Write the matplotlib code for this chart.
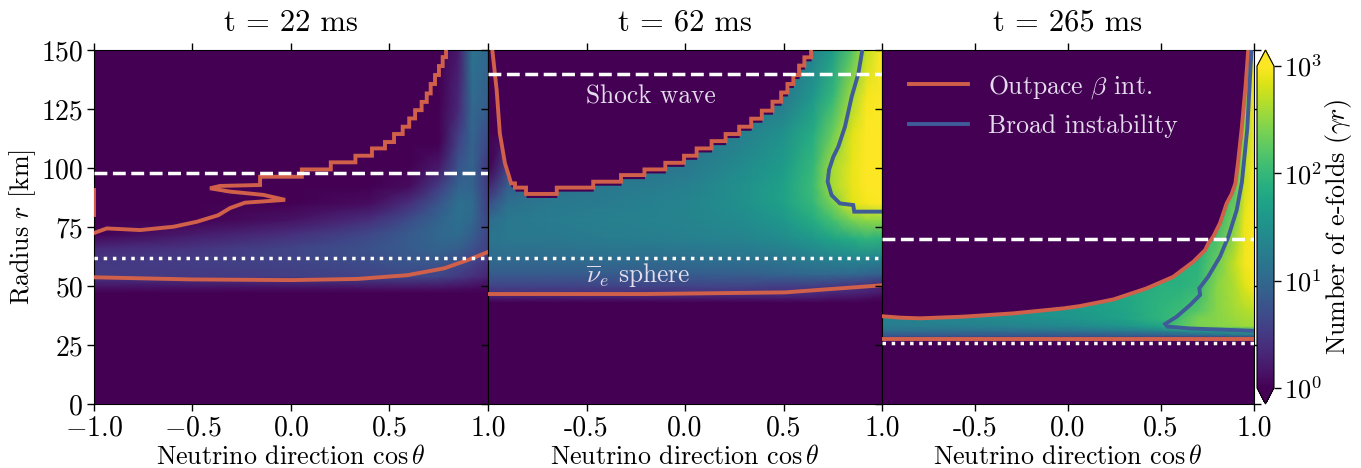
import matplotlib
matplotlib.use("Agg")
import matplotlib.pyplot as plt
from matplotlib.colors import LogNorm
import numpy as np

plt.rcParams['font.family'] = ['cmr10']
plt.rcParams['mathtext.fontset'] = 'cm'
plt.rcParams['axes.unicode_minus'] = False

# ---------- Data ----------
titles = ["t = 22 ms", "t = 62 ms", "t = 265 ms"]
shockRadius = [98, 140, 70]
sphereRadius = [62, 62, 26]

# heat maps hold log10 of the number of e-folds
cos1 = [-1, -0.5, 0, 0.4, 0.6, 0.75, 0.85, 0.92, 1]
rad1 = [0, 47, 49, 54, 60, 66, 72, 78, 85, 92, 100, 110, 125, 150]
log1 = [
    [0, 0, 0, 0, 0, 0, 0, 0, 0],
    [0, 0, 0, 0, 0, 0, 0, 0, 0],
    [.1, .1, .1, .12, .12, .12, .1, .08, .05],
    [.5, .5, .55, .6, .65, .6, .5, .4, .3],
    [.5, .55, .6, .7, .8, .8, .7, .6, .45],
    [.35, .45, .6, .75, .85, .95, .9, .75, .55],
    [.02, .2, .4, .65, .85, 1.0, 1.05, .9, .6],
    [0, 0, .15, .4, .7, .95, 1.1, 1.0, .6],
    [0, 0, 0, .1, .4, .8, 1.1, 1.05, .55],
    [0, 0, 0, 0, .1, .55, .95, .95, .5],
    [0, 0, 0, 0, 0, .2, .8, .95, .45],
    [0, 0, 0, 0, 0, 0, .6, .95, .6],
    [0, 0, 0, 0, 0, 0, .35, 1.0, .85],
    [0, 0, 0, 0, 0, 0, .2, 1.15, 1.0],
]

cos2 = [-1, -0.9, -0.7, -0.4, 0, 0.3, 0.5, 0.65, 0.75, 0.85, 0.92, 1]
rad2 = [0, 43, 45, 47, 50, 55, 62, 70, 78, 85, 92, 100, 115, 130, 150]
log2 = [
    [0, 0, 0, 0, 0, 0, 0, 0, 0, 0, 0, 0],
    [0, 0, 0, 0, 0, 0, 0, 0, 0, 0, 0, 0],
    [.2, .2, .2, .2, .2, .2, .2, .2, .15, .15, .1, .05],
    [.4, .4, .4, .4, .4, .4, .4, .35, .3, .3, .25, .2],
    [.6, .6, .6, .6, .6, .6, .55, .55, .5, .45, .4, .3],
    [.85, .85, .85, .85, .87, .9, .95, 1, 1, 1, .95, .9],
    [1.05, 1.05, 1.05, 1.08, 1.1, 1.15, 1.2, 1.3, 1.35, 1.4, 1.4, 1.35],
    [1.15, 1.2, 1.2, 1.25, 1.3, 1.35, 1.45, 1.6, 1.75, 1.85, 1.95, 1.9],
    [1.05, 1.2, 1.25, 1.3, 1.35, 1.45, 1.6, 1.85, 2.1, 2.4, 2.5, 2.5],
    [.7, 1.1, 1.2, 1.25, 1.35, 1.5, 1.7, 2.0, 2.4, 2.85, 2.95, 3],
    [.3, .9, 1.1, 1.2, 1.3, 1.5, 1.7, 2.05, 2.6, 2.9, 3, 3],
    [0, .6, 1.0, 1.1, 1.2, 1.45, 1.65, 2.0, 2.6, 2.9, 3, 3],
    [0, 0, .9, 1.0, 1.1, 1.3, 1.5, 1.85, 2.3, 2.85, 3, 3],
    [0, 0, .7, .8, .9, 1.1, 1.2, 1.6, 2.0, 2.6, 2.95, 3],
    [0, 0, .5, .6, .8, 1.0, 1.1, 1.3, 1.65, 2.2, 2.7, 3],
]

cos3 = [-1, -0.5, 0, 0.3, 0.5, 0.6, 0.7, 0.8, 0.9, 0.95, 1]
rad3 = [0, 26.5, 27.5, 29, 31, 33, 36, 40, 50, 60, 80, 100, 150]
log3 = [
    [0, 0, 0, 0, 0, 0, 0, 0, 0, 0, 0],
    [0, 0, 0, 0, 0, 0, 0, 0, 0, 0, 0],
    [.5, .5, .5, .5, .5, .5, .5, .5, .5, .5, .5],
    [.8, .8, .8, .85, .85, .9, .9, .95, 1, 1, 1],
    [1.1, 1.1, 1.15, 1.25, 1.35, 1.45, 1.6, 1.65, 1.75, 1.8, 1.8],
    [1.25, 1.3, 1.4, 1.55, 1.75, 2.2, 2.4, 2.45, 2.5, 2.55, 2.55],
    [1.3, 1.4, 1.55, 1.7, 1.95, 2.1, 2.4, 2.45, 2.55, 2.6, 2.6],
    [1.3, 1.45, 1.6, 1.75, 1.95, 2.05, 2.2, 2.45, 2.6, 2.65, 2.7],
    [1.3, 1.45, 1.6, 1.8, 1.9, 1.9, 2.0, 2.45, 2.65, 2.85, 2.95],
    [1.3, 1.45, 1.6, 1.8, 1.9, 1.9, 1.9, 2.3, 2.75, 2.95, 3],
    [1.3, 1.45, 1.6, 1.8, 1.9, 1.9, 1.9, 1.9, 2.4, 2.9, 3],
    [1.3, 1.45, 1.6, 1.8, 1.9, 1.9, 1.9, 1.9, 2.0, 2.7, 3],
    [1.3, 1.45, 1.6, 1.8, 1.9, 1.9, 1.9, 1.9, 1.9, 2.0, 3],
]

# contours
redTop1x = [-0.995, -0.935, -0.766, -0.597, -0.479, -0.369, -0.31, -0.234, -0.03, -0.14, -0.31, -0.411,
            -0.36, -0.157, -0.157, 0.055, 0.055, 0.202, 0.202, 0.327, 0.327, 0.411, 0.411, 0.477, 0.477,
            0.523, 0.523, 0.567, 0.567, 0.6, 0.6, 0.63, 0.63, 0.663, 0.663, 0.689, 0.689, 0.709, 0.709,
            0.731, 0.731, 0.751, 0.751, 0.77, 0.77, 0.787, 0.787]
redTop1y = [72.6, 74.4, 73.7, 75.1, 77.2, 80, 83, 85.3, 86.5, 88.6, 90, 91.4,
            92.4, 92.8, 96.3, 96.3, 99.4, 99.4, 102.4, 102.4, 105.2, 105.2, 108.3, 108.3, 111,
            111, 114.4, 114.4, 117.5, 117.5, 121, 121, 124.5, 124.5, 128, 128, 131.6, 131.6, 135.6,
            135.6, 139.4, 139.4, 143.2, 143.2, 147, 147, 150]
redBit1x = [-1, -1]
redBit1y = [80, 90.7]
redLow1x = [-1, -0.513, 0, 0.338, 0.592, 0.778, 0.897, 1]
redLow1y = [53.7, 52.8, 52.5, 53, 54.6, 57.5, 61, 64.4]

redTop2x = [-0.978, -0.956, -0.94, -0.914, -0.893, -0.883, -0.863, -0.863, -0.807, -0.807, -0.651, -0.651,
            -0.466, -0.466, -0.325, -0.325, -0.206, -0.206, -0.1, -0.1, -0.005, -0.005, 0.059, 0.059,
            0.135, 0.135, 0.206, 0.206, 0.275, 0.275, 0.336, 0.336, 0.39, 0.39, 0.444, 0.444, 0.488,
            0.488, 0.52, 0.52, 0.55, 0.55, 0.579, 0.579, 0.606, 0.606, 0.64, 0.64]
redTop2y = [150, 133, 114.7, 102, 96.4, 93.5, 93.5, 91.7, 91.7, 89, 89, 91.7,
            91.7, 94.2, 94.2, 97, 97, 99.4, 99.4, 102.2, 102.2, 105.2, 105.2, 108.3,
            108.3, 111.4, 111.4, 114.4, 114.4, 117.5, 117.5, 120.9, 120.9, 124.3, 124.3, 128.1, 128.1,
            132, 132, 135.6, 135.6, 139.4, 139.4, 143.4, 143.4, 146.9, 146.9, 150]
redLow2x = [-1, -0.2, 0.508, 1]
redLow2y = [46.6, 46.6, 47.3, 50.3]
blue2x = [0.90, 0.88, 0.846, 0.812, 0.778, 0.753, 0.731, 0.724, 0.744, 0.786, 0.854, 0.859, 1]
blue2y = [150, 140, 130.2, 117.5, 109, 104.8, 99.2, 94.2, 88.5, 85, 84.3, 81.5, 81.5]

redTop3x = [-1, -0.904, -0.796, -0.564, -0.295, -0.026, 0.0645, 0.244, 0.423, 0.566, 0.674, 0.737, 0.754,
            0.781, 0.817, 0.853, 0.88, 0.9, 0.915, 0.934, 0.955, 0.969]
redTop3y = [37.2, 36.6, 36.3, 37, 38.4, 40.5, 41.5, 44.3, 49, 53.9, 60.3, 65.2, 68,
            70.9, 76.6, 85, 89, 93.5, 103, 116.8, 135, 150]
redLow3x = [-1, 1]
redLow3y = [27.5, 27.5]
blue3x = [0.987, 0.982, 0.964, 0.935, 0.907, 0.862, 0.817, 0.754, 0.706, 0.71, 0.656, 0.584, 0.522, 0.534, 0.656, 1]
blue3y = [150, 143.6, 116.8, 94, 82.2, 70.9, 62.4, 54, 49, 46.2, 41.9, 37, 33.9, 32.8, 32, 31]

xTicks1 = [-1.0, -0.5, 0.0, 0.5, 1.0]
xTickLabels1 = ["$-1.0$", "$-0.5$", "$0.0$", "$0.5$", "1.0"]
xTicks2 = [-0.5, 0.0, 0.5, 1.0]
xTickLabels2 = ["-0.5", "0.0", "0.5", "1.0"]
yTicks = [0, 25, 50, 75, 100, 125, 150]
cbarTicks = [1, 10, 100, 1000]
cbarLabels = ["$10^{0}$", "$10^{1}$", "$10^{2}$", "$10^{3}$"]

# ---------- Style ----------
W, H = 1361, 468
RED = '#d1604a'
BLUE = '#3f5b98'
PURPLE = '#440154'
SOFT = '#e4dcec'
norm = LogNorm(1, 1000)

fig = plt.figure(figsize=(W / 100, H / 100), dpi=100)


def axesAt(x0, x1, y0=50, y1=404):
    return fig.add_axes([x0 / W, (H - y1) / H, (x1 - x0) / W, (y1 - y0) / H])


def drawPanel(ax, i, cosValues, radValues, logValues):
    z = 10.0 ** np.array(logValues)
    mesh = ax.pcolormesh(cosValues, radValues, z, cmap='viridis', norm=norm, shading='gouraud', zorder=1)
    ax.axhline(shockRadius[i], color='white', lw=2.5, ls='--', zorder=5)
    ax.axhline(sphereRadius[i], color='white', lw=2.5, ls=':', zorder=5)
    ax.set_xlim(-1, 1)
    ax.set_ylim(0, 150)
    ax.set_title(titles[i], fontsize=22, pad=14)
    ax.set_xlabel(r"Neutrino direction $\cos\theta$", fontsize=18.7, labelpad=2.5)
    ax.set_yticks(yTicks)
    ax.tick_params(length=5, width=1, labelsize=20, top=True, pad=3)
    return mesh


def contour(ax, x, y, color=RED):
    ax.plot(x, y, color=color, lw=2.8, zorder=4, solid_joinstyle='miter')


# ---------- Panels ----------
ax1 = axesAt(94, 488)
ax2 = axesAt(488, 882)
ax3 = axesAt(882, 1254)

drawPanel(ax1, 0, cos1, rad1, log1)
ax1.set_xticks(xTicks1, xTickLabels1)
ax1.set_ylabel("Radius $r$ [km]", fontsize=18.7, labelpad=2)
contour(ax1, redTop1x, redTop1y)
contour(ax1, redBit1x, redBit1y)
contour(ax1, redLow1x, redLow1y)

drawPanel(ax2, 1, cos2, rad2, log2)
ax2.set_xticks(xTicks2, xTickLabels2)
ax2.set_yticklabels([])
ax2.fill_between(redTop2x, np.array(redTop2y) - 1.5, 150, color=PURPLE, lw=0, zorder=2)
contour(ax2, redTop2x, redTop2y)
contour(ax2, redLow2x, redLow2y)
contour(ax2, blue2x, blue2y, BLUE)
ax2.text(-0.5, 127.5, "Shock wave", color=SOFT, fontsize=18.3, zorder=6)
ax2.text(-0.5, 51.5, r"$\overline{\nu}_e$ sphere", color=SOFT, fontsize=18.3, zorder=6)

mesh3 = drawPanel(ax3, 2, cos3, rad3, log3)
ax3.set_xticks(xTicks2, xTickLabels2)
ax3.set_yticklabels([])
ax3.tick_params(right=True)
ax3.fill_between(redTop3x, redTop3y, 150, color=PURPLE, lw=0, zorder=2)
contour(ax3, redTop3x, redTop3y)
contour(ax3, redLow3x, redLow3y)
contour(ax3, blue3x, blue3y, BLUE)
ax3.plot([], [], color=RED, lw=2.8, label=r"Outpace $\beta$ int.")
ax3.plot([], [], color=BLUE, lw=2.8, label="Broad instability")
ax3.legend(loc='upper left', frameon=False, fontsize=18.5, labelcolor=SOFT, handlelength=2.3,
           handletextpad=0.8, labelspacing=0.55, borderaxespad=0.35, bbox_to_anchor=(0.02, 0.99))

# ---------- Colorbar ----------
cax = axesAt(1257, 1274, 50, 404)
cbar = fig.colorbar(mesh3, cax=cax, extend='both', extendfrac=0.05)
cbar.set_ticks(cbarTicks, labels=cbarLabels)
cbar.minorticks_off()
cbar.ax.tick_params(length=5, width=1, labelsize=19, pad=2)
cbar.set_label(r"Number of e-folds ($\gamma r$)", fontsize=18.7, labelpad=1)

fig.savefig("out.png", dpi=100)
